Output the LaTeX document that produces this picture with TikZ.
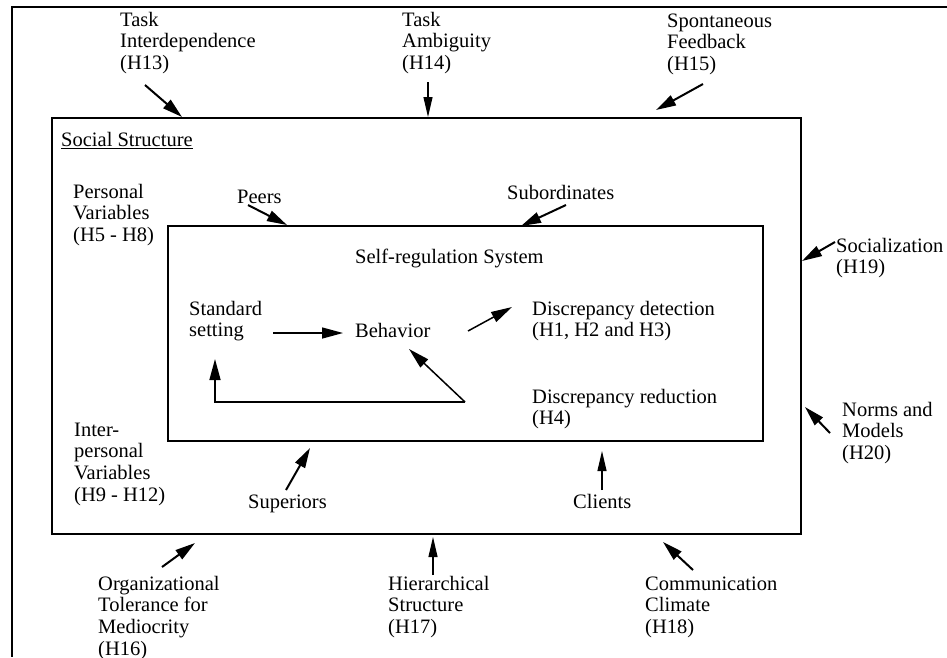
\documentclass[tikz,border=0pt]{standalone}
\usepackage{fontspec}
\setmainfont{Liberation Serif}
\usetikzlibrary{arrows.meta}
\newcommand{\lblfont}{\fontsize{20.5}{21.7}\selectfont}
\tikzset{
  lbl/.style={anchor=north west, inner sep=0pt, align=left, font=\lblfont, yshift=15.19pt},
  boxline/.style={line width=1.9pt},
  frameline/.style={line width=1.4pt},
  arr/.style={line width=2pt, -{Triangle[length=20pt,width=11pt]}},
  thinarr/.style={line width=1.1pt, -{Triangle[length=20pt,width=9pt]}},
  flow/.style={line width=1.5pt, -{Triangle[length=21pt,width=11pt]}}
}
\begin{document}
\begin{tikzpicture}[x=1pt,y=-1pt]
\useasboundingbox (0,0) rectangle (947,657);
\clip (0,0) rectangle (947,657);
% outer frame
\coordinate (fTR) at (947,7);
\coordinate (fTL) at (12,7);
\coordinate (fBL) at (12,657);
\draw[frameline] (fTR) -- (fTL) -- (fBL);
% social structure box
\coordinate (sTL) at (52,118);
\coordinate (sBR) at (801,534);
\draw[boxline] (sTL) rectangle (sBR);
% self-regulation box
\coordinate (iTL) at (168,226);
\coordinate (iBR) at (763,441);
\draw[boxline] (iTL) rectangle (iBR);
% labels
\node[lbl] (t13) at (120,26) {\strut Task\\Interdependence\\(H13)};
\node[lbl] (t14) at (402,26) {\strut Task\\Ambiguity\\(H14)};
\node[lbl] (t15) at (667,27) {\strut Spontaneous\\Feedback\\(H15)};
\node[lbl] (social) at (61,146) {\strut\underline{Social Structure}};
\node[lbl] (personal) at (73,198) {\strut Personal\\Variables\\(H5 - H8)};
\node[lbl] (peers) at (237,203) {\strut Peers};
\node[lbl] (subord) at (507,199) {\strut Subordinates};
\node[lbl] (selfreg) at (355,263) {\strut Self-regulation System};
\node[lbl] (std) at (189,315) {\strut Standard\\setting};
\node[lbl] (beh) at (355,337) {\strut Behavior};
\node[lbl] (det) at (532,315) {\strut Discrepancy detection\\(H1, H2 and H3)};
\node[lbl] (red) at (532,403) {\strut Discrepancy reduction\\(H4)};
\node[lbl] (soc) at (836,252) {\strut Socialization\\(H19)};
\node[lbl] (norms) at (842,416) {\strut Norms and\\Models\\(H20)};
\node[lbl] (inter) at (74,436) {\strut Inter-\\personal\\Variables\\(H9 - H12)};
\node[lbl] (sup) at (248,508) {\strut Superiors};
\node[lbl] (cli) at (573,508) {\strut Clients};
\node[lbl] (t16) at (98,590) {\strut Organizational\\Tolerance for\\Mediocrity\\(H16)};
\node[lbl] (t17) at (388,590) {\strut Hierarchical\\Structure\\(H17)};
\node[lbl] (t18) at (645,590) {\strut Communication\\Climate\\(H18)};
% arrow end points
\coordinate (a13s) at (145,85);  \coordinate (a13e) at (182,117);
\coordinate (a14s) at (428,82);  \coordinate (a14e) at (428,117);
\coordinate (a15s) at (703,84);  \coordinate (a15e) at (656,110);
\coordinate (peS) at (248,205);  \coordinate (peE) at (287,225);
\coordinate (suS) at (566,205);  \coordinate (suE) at (521,226);
\coordinate (soS) at (835,242);  \coordinate (soE) at (802,261);
\coordinate (noS) at (830,433);  \coordinate (noE) at (805,407);
\coordinate (spS) at (286,490);  \coordinate (spE) at (310,448);
\coordinate (clS) at (602,490);  \coordinate (clE) at (602,451);
\coordinate (a16s) at (162,567); \coordinate (a16e) at (195,543);
\coordinate (a17s) at (433,575); \coordinate (a17e) at (433,537);
\coordinate (a18s) at (693,570); \coordinate (a18e) at (663,542);
\coordinate (sbS) at (273,333);  \coordinate (sbE) at (343,333);
\coordinate (bdS) at (468,331);  \coordinate (bdE) at (512,307);
\coordinate (fbC) at (465,402);  \coordinate (fbB) at (409,349);
\coordinate (fbL) at (215,402);  \coordinate (fbS) at (215,359);
% external arrows
\draw[arr] (a13s) -- (a13e);
\draw[thinarr] (a14s) -- (a14e);
\draw[arr] (a15s) -- (a15e);
\draw[arr] (peS) -- (peE);
\draw[arr] (suS) -- (suE);
\draw[arr] (soS) -- (soE);
\draw[arr] (noS) -- (noE);
\draw[arr] (spS) -- (spE);
\draw[thinarr] (clS) -- (clE);
\draw[arr] (a16s) -- (a16e);
\draw[thinarr] (a17s) -- (a17e);
\draw[arr] (a18s) -- (a18e);
% internal arrows
\draw[flow] (sbS) -- (sbE);
\draw[flow] (bdS) -- (bdE);
\draw[flow] (fbC) -- (fbB);
\draw[flow] (fbC) -- (fbL) -- (fbS);
\end{tikzpicture}
\end{document}
